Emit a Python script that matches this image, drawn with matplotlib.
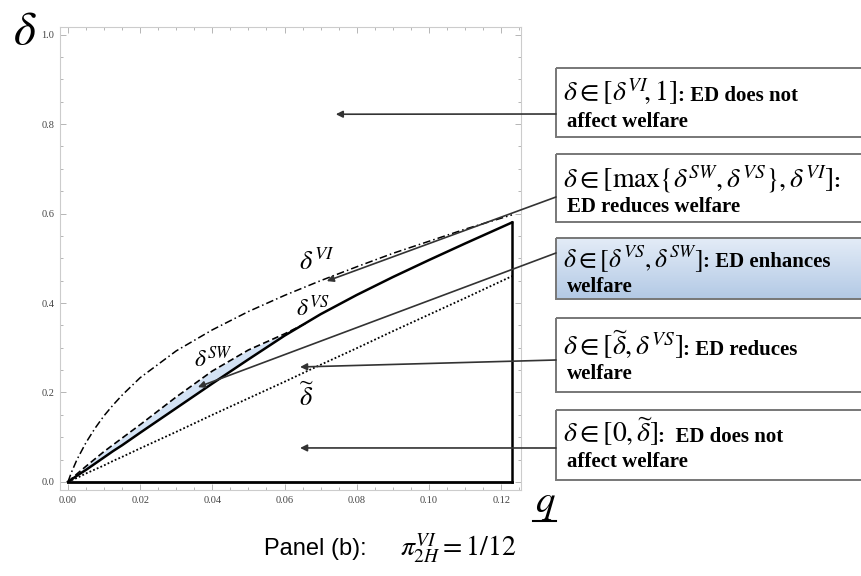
import matplotlib
matplotlib.use("Agg")
import matplotlib.pyplot as plt
import numpy as np
from matplotlib.colors import LinearSegmentedColormap
from matplotlib.patches import Rectangle

plt.rcParams['mathtext.fontset'] = 'stix'
plt.rcParams['font.family'] = ['Liberation Serif', 'DejaVu Serif']

# curves
q = [0, 0.001, 0.0025, 0.005, 0.0075, 0.01, 0.0125, 0.015, 0.02, 0.03, 0.04, 0.05, 0.06,
     0.07, 0.08, 0.09, 0.10, 0.11, 0.123]
delta_vi = [0, 0.022, 0.050, 0.088, 0.120, 0.148, 0.172, 0.194, 0.233, 0.293, 0.340, 0.381, 0.417,
            0.450, 0.481, 0.511, 0.538, 0.565, 0.597]
delta_vs = [0, 0.0055, 0.014, 0.027, 0.041, 0.055, 0.069, 0.082, 0.110, 0.165, 0.220, 0.274, 0.327,
            0.375, 0.418, 0.458, 0.496, 0.533, 0.580]
delta_tilde = [0, 0.004, 0.009, 0.019, 0.028, 0.037, 0.047, 0.056, 0.075, 0.112, 0.150, 0.187, 0.224,
               0.262, 0.299, 0.337, 0.374, 0.411, 0.460]
q_sw = [0, 0.0025, 0.005, 0.01, 0.015, 0.02, 0.03, 0.04, 0.05, 0.06, 0.066]
delta_sw = [0, 0.018, 0.035, 0.068, 0.098, 0.128, 0.190, 0.248, 0.295, 0.331, 0.355]
q_max = 0.123

# region boxes: (top, bottom, math part, bold words line 1, line 2, arrow tip)
boxes = [
    (68, 137, r'$\delta \in [\delta^{VI}\!,1]$', ': ED does not', 'affect welfare', (0.0742, 0.822)),
    (154, 222, r'$\delta \in [\max\{\delta^{SW}, \delta^{VS}\}, \delta^{VI}]$', ':', 'ED reduces welfare', (0.0717, 0.449)),
    (238, 299, r'$\delta \in [\delta^{VS}, \delta^{SW}]$', ': ED enhances', 'welfare', (0.0360, 0.212)),
    (318, 392, r'$\delta \in [\widetilde{\delta}, \delta^{VS}]$', ': ED reduces', 'welfare', (0.0643, 0.257)),
    (410, 480, r'$\delta \in [0,\widetilde{\delta}]$', ':  ED does not', 'affect welfare', (0.0643, 0.076)),
]
baselines = [(101, 127), (187, 212), (267, 292), (355, 379), (442, 467)]
math_sizes = [20, 20, 18.5, 20, 20]
arrow_y = [114, 197, 253, 360, 448]

fig = plt.figure(figsize=(8.61, 5.76), dpi=100)
ax = fig.add_axes([60 / 861, 86 / 576, 461 / 861, 463 / 576])

ax.fill_between(q_sw[:-1], delta_sw[:-1], np.interp(q_sw[:-1], q, delta_vs), color='#d3e2f4', lw=0)
ax.plot(q, delta_vi, color='black', lw=1.1, ls=(0, (5, 2, 1, 2)))
ax.plot(q_sw, delta_sw, color='black', lw=1.2, ls=(0, (4, 2)))
ax.plot(q, delta_tilde, color='black', lw=1.3, ls=(0, (1, 1.2)))
ax.plot(q, delta_vs, color='black', lw=1.8)
ax.plot([0, q_max], [0, 0], color='black', lw=2.0)
ax.plot([q_max, q_max], [0, delta_vs[-1]], color='black', lw=1.8)

ax.set_xlim(-0.0022, 0.1255)
ax.set_ylim(-0.018, 1.017)
ax.set_xticks(np.arange(0, 0.121, 0.02))
ax.set_xticks(np.arange(0, 0.126, 0.005), minor=True)
ax.set_yticks(np.arange(0, 1.01, 0.2))
ax.set_yticks(np.arange(0, 1.01, 0.05), minor=True)
ax.xaxis.set_major_formatter(matplotlib.ticker.FormatStrFormatter('%.2f'))
ax.yaxis.set_major_formatter(matplotlib.ticker.FormatStrFormatter('%.1f'))
ax.tick_params(which='both', direction='in', top=True, right=True, color='#aaaaaa',
               labelsize=7.5, labelcolor='#444444', width=0.6, pad=4)
ax.tick_params(which='major', length=4)
ax.tick_params(which='minor', length=2)
for s in ax.spines.values():
    s.set_color('#cccccc')
    s.set_linewidth(0.8)

# curve labels
ax.text(0.069, 0.492, r'$\delta^{VI}$', fontsize=19, ha='center', va='center')
ax.text(0.068, 0.389, r'$\delta^{VS}$', fontsize=17, ha='center', va='center')
ax.text(0.0404, 0.273, r'$\delta^{SW}$', fontsize=17, ha='center', va='center')
ax.text(0.0662, 0.190, r'$\widetilde{\delta}$', fontsize=19, ha='center', va='center')

# overlay in pixel units for the boxes and labels outside the plot
ov = fig.add_axes([0, 0, 1, 1], zorder=5)
ov.set_xlim(0, 861)
ov.set_ylim(576, 0)
ov.axis('off')

grad = np.linspace(0, 1, 50).reshape(-1, 1)
blue = LinearSegmentedColormap.from_list('bx', ['#e3ecf7', '#b3c9e5'])

renderer = fig.canvas.get_renderer()
for (top, bot, math, words, line2, tip), (b1, b2), fs, ay in zip(boxes, baselines, math_sizes, arrow_y):
    if 'enhances' in words:
        ov.imshow(grad, extent=(556, 875, bot, top), cmap=blue, aspect='auto', zorder=1)
    ov.add_patch(Rectangle((556, top), 320, bot - top, fill=False, ec='#777777', lw=1.4,
                           zorder=2, clip_on=False))
    t = ov.text(563, b1, math, fontsize=fs, va='baseline', zorder=3)
    bb = t.get_window_extent(renderer)
    x2 = ov.transData.inverted().transform((bb.x1, 0))[0]
    ov.text(x2, b1, words, fontsize=15, fontweight='bold', va='baseline', zorder=3)
    ov.text(567, b2, line2, fontsize=15, fontweight='bold', va='baseline', zorder=3)
    ov.annotate('', xy=tip, xycoords=ax.transData, xytext=(556, ay), textcoords='data',
                arrowprops=dict(arrowstyle='-|>', color='#333333', lw=1.2,
                                mutation_scale=10, shrinkA=0, shrinkB=0))

ov.set_xlim(0, 861)
ov.set_ylim(576, 0)

ov.text(25, 33, r'$\delta$', fontsize=34, ha='center', va='center')
ov.text(545, 503, r'$q$', fontsize=28, ha='center', va='center')
ov.plot([533, 556], [521, 521], color='black', lw=1.5)
ov.text(367, 549, 'Panel (b):', fontsize=17, ha='right', va='center',
        family=['Liberation Sans', 'DejaVu Sans'])
ov.text(400, 549, r'$\pi_{2H}^{VI} = 1/12$', fontsize=20, ha='left', va='center')

fig.savefig('out.png', dpi=100)
